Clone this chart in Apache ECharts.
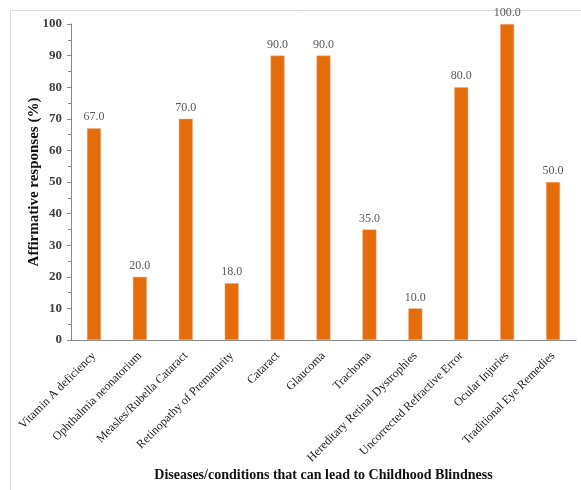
<!DOCTYPE html>
<html><head><meta charset="utf-8">
<script src="https://cdn.jsdelivr.net/npm/echarts@6/dist/echarts.min.js"></script>
<style>html,body{margin:0;padding:0;background:#fff}#c{width:581px;height:490px}</style>
</head><body><div id="c"></div>
<script>
const categories = ["Vitamin A deficiency","Ophthalmia neonatorium","Measles/Rubella Cataract","Retinopathy of Prematurity","Cataract","Glaucoma","Trachoma","Hereditary Retinal Dystrophies","Uncorrected Refractive Error","Ocular Injuries","Traditional Eye Remedies"];
const values = [67,20,70,18,90,90,35,10,80,100,50];
const yTitle = "Affirmative responses (%)";
const xTitle = "Diseases/conditions that can lead to Childhood Blindness";
const serif = "'Liberation Serif','DejaVu Serif',serif";
const chart = echarts.init(document.getElementById('c'));
chart.setOption({
  animation:false,
  graphic:[{type:'rect',shape:{x:10.5,y:10.5,width:600,height:600},style:{fill:'none',stroke:'#d9d9d9',lineWidth:1},silent:true}],
  grid:{left:71,right:5,top:24,bottom:150},
  xAxis:{type:'category',data:categories,
    name:xTitle,nameLocation:'middle',nameGap:128,nameMoveOverlap:false,
    nameTextStyle:{fontFamily:serif,fontSize:14,fontWeight:'bold',color:'#111'},
    axisLine:{lineStyle:{color:'#888'}},
    axisTick:{alignWithLabel:true,length:4,lineStyle:{color:'#888'}},
    axisLabel:{rotate:45,interval:0,fontFamily:serif,fontSize:12,color:'#222',margin:14}},
  yAxis:{type:'value',min:0,max:100,interval:10,
    name:yTitle,nameLocation:'middle',nameGap:29,nameMoveOverlap:false,
    nameTextStyle:{fontFamily:serif,fontSize:15,fontWeight:'bold',color:'#111'},
    splitLine:{show:false},
    axisLine:{show:true,lineStyle:{color:'#888'}},
    axisTick:{show:true,inside:false,length:4,lineStyle:{color:'#888'}},
    minorTick:{show:true,splitNumber:2,length:3,lineStyle:{color:'#888'}},
    axisLabel:{fontFamily:serif,fontSize:13,fontWeight:'bold',color:'#404040',margin:9}},
  series:[{type:'bar',data:values,barWidth:14,
    itemStyle:{color:'#E46C0A',borderColor:'#F4B183',borderWidth:0.5},
    label:{show:true,position:'top',formatter:p=>p.value.toFixed(1),fontFamily:serif,fontSize:12,color:'#595959',distance:5}}]
});
</script></body></html>
